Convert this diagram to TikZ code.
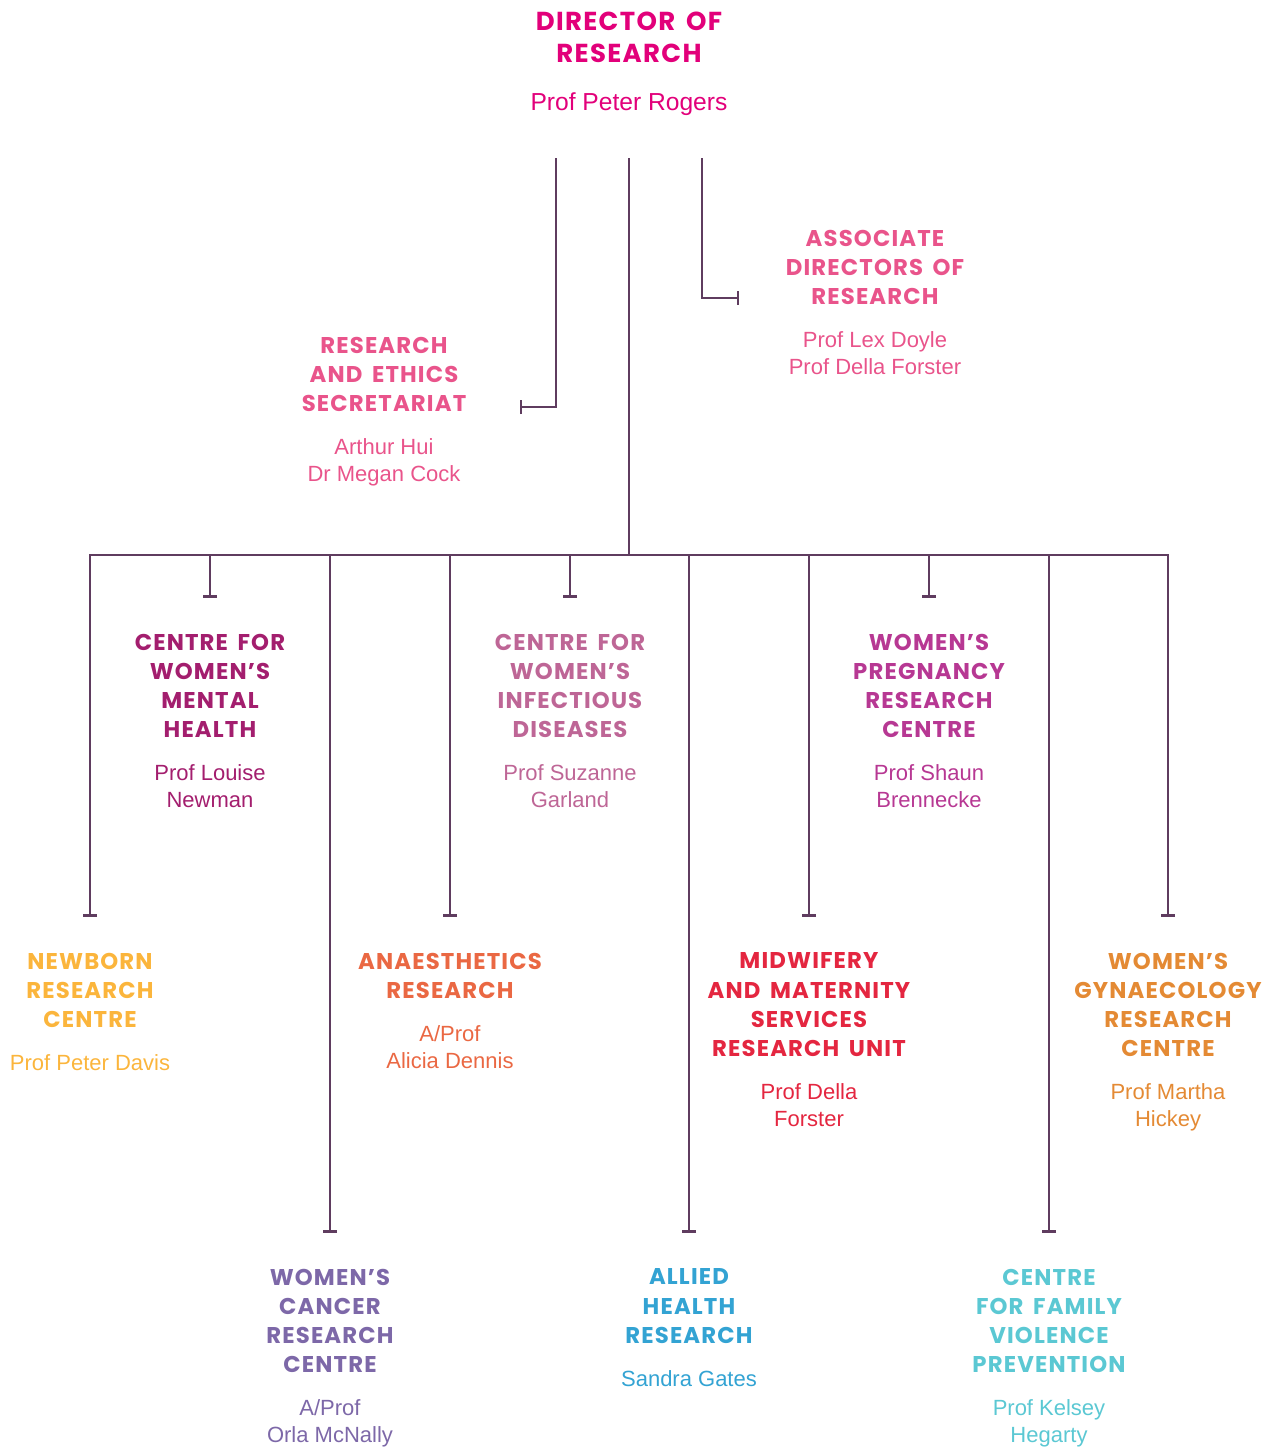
\documentclass[tikz,border=0pt]{standalone}
\usepackage{fontspec}
\setmainfont{Liberation Sans}
\newfontfamily\headfont{Poppins}[LetterSpace=5, WordSpace=1.6]
\usepackage{xcolor}
\usetikzlibrary{arrows.meta,positioning}

\definecolor{linePlum}{RGB}{95,60,95}
\definecolor{dirMag}{RGB}{226,0,122}
\definecolor{secPink}{RGB}{233,84,139}
\definecolor{mhPlum}{RGB}{163,30,110}
\definecolor{infPink}{RGB}{190,102,150}
\definecolor{pregMag}{RGB}{183,56,147}
\definecolor{nbYellow}{RGB}{251,181,60}
\definecolor{anaOrange}{RGB}{234,104,67}
\definecolor{midRed}{RGB}{228,38,64}
\definecolor{gynOrange}{RGB}{228,138,52}
\definecolor{canPurple}{RGB}{125,104,168}
\definecolor{ahBlue}{RGB}{51,163,211}
\definecolor{fvTeal}{RGB}{91,200,211}

\begin{document}
\begin{tikzpicture}[
  x=0.5pt, y=-0.5pt,
  head/.style={align=center, inner sep=0pt, anchor=north, font=\headfont\bfseries\fontsize{11.4}{14.6}\selectfont},
  who/.style={align=center, inner sep=0pt, font=\fontsize{11}{13.5}\selectfont},
  link/.style={draw=linePlum, line width=1.2pt},
  tee/.style={link, -{Bar[width=7pt]}, shorten >=18pt},
  node distance=13pt
]
\useasboundingbox (0,0) rectangle (1267,1447);

% director
\node[head, text=dirMag, font=\headfont\bfseries\fontsize{13}{16}\selectfont] (dir) at (629,11.5) {DIRECTOR OF\\RESEARCH};
\node[who, text=dirMag, font=\fontsize{12.3}{15}\selectfont, below=14.5pt of dir] (dirN) {Prof Peter Rogers};

% side units
\node[head, text=secPink] (sec) at (384,336.5) {RESEARCH\\AND ETHICS\\SECRETARIAT};
\node[who, text=secPink, below=of sec] (secN) {Arthur Hui\\Dr Megan Cock};
\node[head, text=secPink] (adr) at (875,229.5) {ASSOCIATE\\DIRECTORS OF\\RESEARCH};
\node[who, text=secPink, below=of adr] (adrN) {Prof Lex Doyle\\Prof Della Forster};

% first row
\node[head, text=mhPlum] (mh) at (210,633.5) {CENTRE FOR\\WOMEN’S\\MENTAL\\HEALTH};
\node[who, text=mhPlum, below=of mh] (mhN) {Prof Louise\\Newman};
\node[head, text=infPink] (inf) at (570,633.5) {CENTRE FOR\\WOMEN’S\\INFECTIOUS\\DISEASES};
\node[who, text=infPink, below=of inf] (infN) {Prof Suzanne\\Garland};
\node[head, text=pregMag] (preg) at (929,633.5) {WOMEN’S\\PREGNANCY\\RESEARCH\\CENTRE};
\node[who, text=pregMag, below=of preg] (pregN) {Prof Shaun\\Brennecke};

% second row
\node[head, text=nbYellow] (nb) at (90,952.5) {NEWBORN\\RESEARCH\\CENTRE};
\node[who, text=nbYellow, below=of nb] (nbN) {Prof Peter Davis};
\node[head, text=anaOrange] (ana) at (450,952.5) {ANAESTHETICS\\RESEARCH};
\node[who, text=anaOrange, below=of ana] (anaN) {A/Prof\\Alicia Dennis};
\node[head, text=midRed] (mid) at (809,952.5) {MIDWIFERY\\AND MATERNITY\\SERVICES\\RESEARCH UNIT};
\node[who, text=midRed, below=of mid] (midN) {Prof Della\\Forster};
\node[head, text=gynOrange] (gyn) at (1168,952.5) {WOMEN’S\\GYNAECOLOGY\\RESEARCH\\CENTRE};
\node[who, text=gynOrange, below=of gyn] (gynN) {Prof Martha\\Hickey};

% third row
\node[head, text=canPurple] (can) at (330,1268.5) {WOMEN’S\\CANCER\\RESEARCH\\CENTRE};
\node[who, text=canPurple, below=of can] (canN) {A/Prof\\Orla McNally};
\node[head, text=ahBlue] (ah) at (689,1268.5) {ALLIED\\HEALTH\\RESEARCH};
\node[who, text=ahBlue, below=of ah] (ahN) {Sandra Gates};
\node[head, text=fvTeal] (fv) at (1049,1268.5) {CENTRE\\FOR FAMILY\\VIOLENCE\\PREVENTION};
\node[who, text=fvTeal, below=of fv] (fvN) {Prof Kelsey\\Hegarty};

% connectors
\coordinate (dTop) at (629,158);
\coordinate (sTop) at (556,158);
\coordinate (sEnd) at (520,407);
\coordinate (aTop) at (702,158);
\coordinate (aEnd) at (739,298);
\coordinate (bus) at (629,555);

\draw[link] (dTop) -- (bus);
\draw[link, -{Bar[width=7pt]}] (sTop) |- (sEnd);
\draw[link, -{Bar[width=7pt]}] (aTop) |- (aEnd);
\draw[link, {Bar[width=7pt]}-{Bar[width=7pt]}, shorten <=18pt, shorten >=18pt] (nb.north) |- (bus) -| (gyn.north);
\foreach \u in {mh,inf,preg,ana,mid,can,ah,fv}
  \draw[tee] (\u.north |- bus) -- (\u.north);
\end{tikzpicture}
\end{document}
